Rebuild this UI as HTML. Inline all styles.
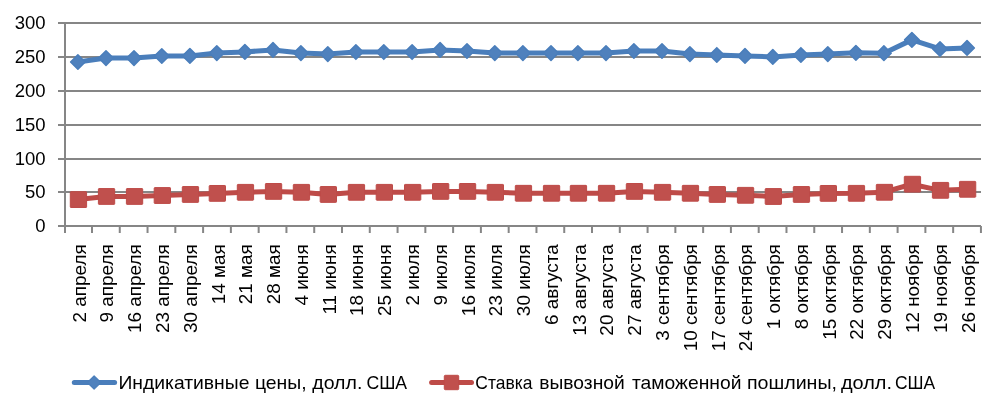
<!DOCTYPE html>
<html><head><meta charset="utf-8"><style>
html,body{margin:0;padding:0;background:#fff;}
body{width:1004px;height:414px;overflow:hidden;}
svg{display:block;will-change:transform;font-family:"Liberation Sans",sans-serif;}
</style></head><body>
<svg width="1004" height="414" viewBox="0 0 1004 414">
<line x1="58" y1="192.00" x2="981" y2="192.00" stroke="#868686" stroke-width="2"/>
<line x1="58" y1="159.00" x2="981" y2="159.00" stroke="#868686" stroke-width="2"/>
<line x1="58" y1="125.00" x2="981" y2="125.00" stroke="#868686" stroke-width="2"/>
<line x1="58" y1="91.00" x2="981" y2="91.00" stroke="#868686" stroke-width="2"/>
<line x1="58" y1="57.00" x2="981" y2="57.00" stroke="#868686" stroke-width="2"/>
<line x1="58" y1="23.00" x2="981" y2="23.00" stroke="#868686" stroke-width="2"/>
<line x1="58" y1="226" x2="981" y2="226" stroke="#868686" stroke-width="2"/>
<line x1="65" y1="22" x2="65" y2="233" stroke="#868686" stroke-width="2"/>
<line x1="91.98" y1="226" x2="91.98" y2="233" stroke="#868686" stroke-width="2"/>
<line x1="119.76" y1="226" x2="119.76" y2="233" stroke="#868686" stroke-width="2"/>
<line x1="147.54" y1="226" x2="147.54" y2="233" stroke="#868686" stroke-width="2"/>
<line x1="175.32" y1="226" x2="175.32" y2="233" stroke="#868686" stroke-width="2"/>
<line x1="203.10" y1="226" x2="203.10" y2="233" stroke="#868686" stroke-width="2"/>
<line x1="230.88" y1="226" x2="230.88" y2="233" stroke="#868686" stroke-width="2"/>
<line x1="258.66" y1="226" x2="258.66" y2="233" stroke="#868686" stroke-width="2"/>
<line x1="286.44" y1="226" x2="286.44" y2="233" stroke="#868686" stroke-width="2"/>
<line x1="314.22" y1="226" x2="314.22" y2="233" stroke="#868686" stroke-width="2"/>
<line x1="342.00" y1="226" x2="342.00" y2="233" stroke="#868686" stroke-width="2"/>
<line x1="369.78" y1="226" x2="369.78" y2="233" stroke="#868686" stroke-width="2"/>
<line x1="397.56" y1="226" x2="397.56" y2="233" stroke="#868686" stroke-width="2"/>
<line x1="425.34" y1="226" x2="425.34" y2="233" stroke="#868686" stroke-width="2"/>
<line x1="453.12" y1="226" x2="453.12" y2="233" stroke="#868686" stroke-width="2"/>
<line x1="480.90" y1="226" x2="480.90" y2="233" stroke="#868686" stroke-width="2"/>
<line x1="508.68" y1="226" x2="508.68" y2="233" stroke="#868686" stroke-width="2"/>
<line x1="536.46" y1="226" x2="536.46" y2="233" stroke="#868686" stroke-width="2"/>
<line x1="564.24" y1="226" x2="564.24" y2="233" stroke="#868686" stroke-width="2"/>
<line x1="592.02" y1="226" x2="592.02" y2="233" stroke="#868686" stroke-width="2"/>
<line x1="619.80" y1="226" x2="619.80" y2="233" stroke="#868686" stroke-width="2"/>
<line x1="647.58" y1="226" x2="647.58" y2="233" stroke="#868686" stroke-width="2"/>
<line x1="675.36" y1="226" x2="675.36" y2="233" stroke="#868686" stroke-width="2"/>
<line x1="703.14" y1="226" x2="703.14" y2="233" stroke="#868686" stroke-width="2"/>
<line x1="730.92" y1="226" x2="730.92" y2="233" stroke="#868686" stroke-width="2"/>
<line x1="758.70" y1="226" x2="758.70" y2="233" stroke="#868686" stroke-width="2"/>
<line x1="786.48" y1="226" x2="786.48" y2="233" stroke="#868686" stroke-width="2"/>
<line x1="814.26" y1="226" x2="814.26" y2="233" stroke="#868686" stroke-width="2"/>
<line x1="842.04" y1="226" x2="842.04" y2="233" stroke="#868686" stroke-width="2"/>
<line x1="869.82" y1="226" x2="869.82" y2="233" stroke="#868686" stroke-width="2"/>
<line x1="897.60" y1="226" x2="897.60" y2="233" stroke="#868686" stroke-width="2"/>
<line x1="925.38" y1="226" x2="925.38" y2="233" stroke="#868686" stroke-width="2"/>
<line x1="953.16" y1="226" x2="953.16" y2="233" stroke="#868686" stroke-width="2"/>
<line x1="980.94" y1="226" x2="980.94" y2="233" stroke="#868686" stroke-width="2"/>
<text x="45.5" y="231.70" text-anchor="end" font-size="18.5" fill="#000">0</text>
<text x="45.5" y="197.70" text-anchor="end" font-size="18.5" fill="#000">50</text>
<text x="45.5" y="164.70" text-anchor="end" font-size="18.5" fill="#000">100</text>
<text x="45.5" y="130.70" text-anchor="end" font-size="18.5" fill="#000">150</text>
<text x="45.5" y="96.70" text-anchor="end" font-size="18.5" fill="#000">200</text>
<text x="45.5" y="62.70" text-anchor="end" font-size="18.5" fill="#000">250</text>
<text x="45.5" y="28.70" text-anchor="end" font-size="18.5" fill="#000">300</text>
<text transform="translate(85.61,244.3) rotate(-90)" text-anchor="end" font-size="18.9" fill="#000">2 апреля</text>
<text transform="translate(113.39,244.3) rotate(-90)" text-anchor="end" font-size="18.9" fill="#000">9 апреля</text>
<text transform="translate(141.17,244.3) rotate(-90)" text-anchor="end" font-size="18.9" fill="#000">16 апреля</text>
<text transform="translate(168.95,244.3) rotate(-90)" text-anchor="end" font-size="18.9" fill="#000">23 апреля</text>
<text transform="translate(196.73,244.3) rotate(-90)" text-anchor="end" font-size="18.9" fill="#000">30 апреля</text>
<text transform="translate(224.51,244.3) rotate(-90)" text-anchor="end" font-size="18.9" fill="#000">14 мая</text>
<text transform="translate(252.29,244.3) rotate(-90)" text-anchor="end" font-size="18.9" fill="#000">21 мая</text>
<text transform="translate(280.07,244.3) rotate(-90)" text-anchor="end" font-size="18.9" fill="#000">28 мая</text>
<text transform="translate(307.85,244.3) rotate(-90)" text-anchor="end" font-size="18.9" fill="#000">4 июня</text>
<text transform="translate(335.63,244.3) rotate(-90)" text-anchor="end" font-size="18.9" fill="#000">11 июня</text>
<text transform="translate(363.42,244.3) rotate(-90)" text-anchor="end" font-size="18.9" fill="#000">18 июня</text>
<text transform="translate(391.20,244.3) rotate(-90)" text-anchor="end" font-size="18.9" fill="#000">25 июня</text>
<text transform="translate(418.98,244.3) rotate(-90)" text-anchor="end" font-size="18.9" fill="#000">2 июля</text>
<text transform="translate(446.76,244.3) rotate(-90)" text-anchor="end" font-size="18.9" fill="#000">9 июля</text>
<text transform="translate(474.54,244.3) rotate(-90)" text-anchor="end" font-size="18.9" fill="#000">16 июля</text>
<text transform="translate(502.32,244.3) rotate(-90)" text-anchor="end" font-size="18.9" fill="#000">23 июля</text>
<text transform="translate(530.10,244.3) rotate(-90)" text-anchor="end" font-size="18.9" fill="#000">30 июля</text>
<text transform="translate(557.88,244.3) rotate(-90)" text-anchor="end" font-size="18.9" fill="#000">6 августа</text>
<text transform="translate(585.66,244.3) rotate(-90)" text-anchor="end" font-size="18.9" fill="#000">13 августа</text>
<text transform="translate(613.44,244.3) rotate(-90)" text-anchor="end" font-size="18.9" fill="#000">20 августа</text>
<text transform="translate(641.22,244.3) rotate(-90)" text-anchor="end" font-size="18.9" fill="#000">27 августа</text>
<text transform="translate(669.00,244.3) rotate(-90)" text-anchor="end" font-size="18.9" fill="#000">3 сентября</text>
<text transform="translate(696.78,244.3) rotate(-90)" text-anchor="end" font-size="18.9" fill="#000">10 сентября</text>
<text transform="translate(724.56,244.3) rotate(-90)" text-anchor="end" font-size="18.9" fill="#000">17 сентября</text>
<text transform="translate(752.34,244.3) rotate(-90)" text-anchor="end" font-size="18.9" fill="#000">24 сентября</text>
<text transform="translate(780.12,244.3) rotate(-90)" text-anchor="end" font-size="18.9" fill="#000">1 октября</text>
<text transform="translate(807.90,244.3) rotate(-90)" text-anchor="end" font-size="18.9" fill="#000">8 октября</text>
<text transform="translate(835.68,244.3) rotate(-90)" text-anchor="end" font-size="18.9" fill="#000">15 октября</text>
<text transform="translate(863.46,244.3) rotate(-90)" text-anchor="end" font-size="18.9" fill="#000">22 октября</text>
<text transform="translate(891.24,244.3) rotate(-90)" text-anchor="end" font-size="18.9" fill="#000">29 октября</text>
<text transform="translate(919.02,244.3) rotate(-90)" text-anchor="end" font-size="18.9" fill="#000">12 ноября</text>
<text transform="translate(946.81,244.3) rotate(-90)" text-anchor="end" font-size="18.9" fill="#000">19 ноября</text>
<text transform="translate(974.59,244.3) rotate(-90)" text-anchor="end" font-size="18.9" fill="#000">26 ноября</text>
<polyline points="77.90,62.00 106.00,58.05 134.00,58.05 161.80,56.00 189.90,55.90 216.80,53.05 244.90,51.90 273.00,49.94 300.90,53.05 327.80,54.06 355.90,52.03 383.80,52.03 412.10,52.03 440.10,49.94 467.00,51.00 494.80,53.05 522.90,53.05 551.00,53.05 577.90,53.05 606.00,53.05 633.90,51.00 662.00,51.00 689.90,54.06 716.80,54.96 745.00,55.92 772.80,56.93 800.90,54.96 827.80,54.06 855.90,52.86 883.90,53.16 911.90,39.87 940.00,48.98 967.05,47.93" fill="none" stroke="#4A7EBB" stroke-width="5" stroke-linejoin="round"/>
<path d="M77.90 54.70L85.20 62.00L77.90 69.30L70.60 62.00Z" fill="#4F81BD" stroke="#4A7EBB" stroke-width="1.5" stroke-linejoin="round"/>
<path d="M106.00 50.75L113.30 58.05L106.00 65.35L98.70 58.05Z" fill="#4F81BD" stroke="#4A7EBB" stroke-width="1.5" stroke-linejoin="round"/>
<path d="M134.00 50.75L141.30 58.05L134.00 65.35L126.70 58.05Z" fill="#4F81BD" stroke="#4A7EBB" stroke-width="1.5" stroke-linejoin="round"/>
<path d="M161.80 48.70L169.10 56.00L161.80 63.30L154.50 56.00Z" fill="#4F81BD" stroke="#4A7EBB" stroke-width="1.5" stroke-linejoin="round"/>
<path d="M189.90 48.60L197.20 55.90L189.90 63.20L182.60 55.90Z" fill="#4F81BD" stroke="#4A7EBB" stroke-width="1.5" stroke-linejoin="round"/>
<path d="M216.80 45.75L224.10 53.05L216.80 60.35L209.50 53.05Z" fill="#4F81BD" stroke="#4A7EBB" stroke-width="1.5" stroke-linejoin="round"/>
<path d="M244.90 44.60L252.20 51.90L244.90 59.20L237.60 51.90Z" fill="#4F81BD" stroke="#4A7EBB" stroke-width="1.5" stroke-linejoin="round"/>
<path d="M273.00 42.64L280.30 49.94L273.00 57.24L265.70 49.94Z" fill="#4F81BD" stroke="#4A7EBB" stroke-width="1.5" stroke-linejoin="round"/>
<path d="M300.90 45.75L308.20 53.05L300.90 60.35L293.60 53.05Z" fill="#4F81BD" stroke="#4A7EBB" stroke-width="1.5" stroke-linejoin="round"/>
<path d="M327.80 46.76L335.10 54.06L327.80 61.36L320.50 54.06Z" fill="#4F81BD" stroke="#4A7EBB" stroke-width="1.5" stroke-linejoin="round"/>
<path d="M355.90 44.73L363.20 52.03L355.90 59.33L348.60 52.03Z" fill="#4F81BD" stroke="#4A7EBB" stroke-width="1.5" stroke-linejoin="round"/>
<path d="M383.80 44.73L391.10 52.03L383.80 59.33L376.50 52.03Z" fill="#4F81BD" stroke="#4A7EBB" stroke-width="1.5" stroke-linejoin="round"/>
<path d="M412.10 44.73L419.40 52.03L412.10 59.33L404.80 52.03Z" fill="#4F81BD" stroke="#4A7EBB" stroke-width="1.5" stroke-linejoin="round"/>
<path d="M440.10 42.64L447.40 49.94L440.10 57.24L432.80 49.94Z" fill="#4F81BD" stroke="#4A7EBB" stroke-width="1.5" stroke-linejoin="round"/>
<path d="M467.00 43.70L474.30 51.00L467.00 58.30L459.70 51.00Z" fill="#4F81BD" stroke="#4A7EBB" stroke-width="1.5" stroke-linejoin="round"/>
<path d="M494.80 45.75L502.10 53.05L494.80 60.35L487.50 53.05Z" fill="#4F81BD" stroke="#4A7EBB" stroke-width="1.5" stroke-linejoin="round"/>
<path d="M522.90 45.75L530.20 53.05L522.90 60.35L515.60 53.05Z" fill="#4F81BD" stroke="#4A7EBB" stroke-width="1.5" stroke-linejoin="round"/>
<path d="M551.00 45.75L558.30 53.05L551.00 60.35L543.70 53.05Z" fill="#4F81BD" stroke="#4A7EBB" stroke-width="1.5" stroke-linejoin="round"/>
<path d="M577.90 45.75L585.20 53.05L577.90 60.35L570.60 53.05Z" fill="#4F81BD" stroke="#4A7EBB" stroke-width="1.5" stroke-linejoin="round"/>
<path d="M606.00 45.75L613.30 53.05L606.00 60.35L598.70 53.05Z" fill="#4F81BD" stroke="#4A7EBB" stroke-width="1.5" stroke-linejoin="round"/>
<path d="M633.90 43.70L641.20 51.00L633.90 58.30L626.60 51.00Z" fill="#4F81BD" stroke="#4A7EBB" stroke-width="1.5" stroke-linejoin="round"/>
<path d="M662.00 43.70L669.30 51.00L662.00 58.30L654.70 51.00Z" fill="#4F81BD" stroke="#4A7EBB" stroke-width="1.5" stroke-linejoin="round"/>
<path d="M689.90 46.76L697.20 54.06L689.90 61.36L682.60 54.06Z" fill="#4F81BD" stroke="#4A7EBB" stroke-width="1.5" stroke-linejoin="round"/>
<path d="M716.80 47.66L724.10 54.96L716.80 62.26L709.50 54.96Z" fill="#4F81BD" stroke="#4A7EBB" stroke-width="1.5" stroke-linejoin="round"/>
<path d="M745.00 48.62L752.30 55.92L745.00 63.22L737.70 55.92Z" fill="#4F81BD" stroke="#4A7EBB" stroke-width="1.5" stroke-linejoin="round"/>
<path d="M772.80 49.63L780.10 56.93L772.80 64.23L765.50 56.93Z" fill="#4F81BD" stroke="#4A7EBB" stroke-width="1.5" stroke-linejoin="round"/>
<path d="M800.90 47.66L808.20 54.96L800.90 62.26L793.60 54.96Z" fill="#4F81BD" stroke="#4A7EBB" stroke-width="1.5" stroke-linejoin="round"/>
<path d="M827.80 46.76L835.10 54.06L827.80 61.36L820.50 54.06Z" fill="#4F81BD" stroke="#4A7EBB" stroke-width="1.5" stroke-linejoin="round"/>
<path d="M855.90 45.56L863.20 52.86L855.90 60.16L848.60 52.86Z" fill="#4F81BD" stroke="#4A7EBB" stroke-width="1.5" stroke-linejoin="round"/>
<path d="M883.90 45.86L891.20 53.16L883.90 60.46L876.60 53.16Z" fill="#4F81BD" stroke="#4A7EBB" stroke-width="1.5" stroke-linejoin="round"/>
<path d="M911.90 32.57L919.20 39.87L911.90 47.17L904.60 39.87Z" fill="#4F81BD" stroke="#4A7EBB" stroke-width="1.5" stroke-linejoin="round"/>
<path d="M940.00 41.68L947.30 48.98L940.00 56.28L932.70 48.98Z" fill="#4F81BD" stroke="#4A7EBB" stroke-width="1.5" stroke-linejoin="round"/>
<path d="M967.05 40.63L974.35 47.93L967.05 55.23L959.75 47.93Z" fill="#4F81BD" stroke="#4A7EBB" stroke-width="1.5" stroke-linejoin="round"/>
<polyline points="77.90,199.58 106.00,196.47 134.00,196.47 161.80,195.52 189.90,194.46 216.80,193.39 244.90,192.31 273.00,191.41 300.90,192.31 327.80,194.46 355.90,192.31 383.80,192.31 412.10,192.31 440.10,191.41 467.00,191.41 494.80,192.31 522.90,193.27 551.00,193.27 577.90,193.27 606.00,193.27 633.90,191.41 662.00,192.31 689.90,193.27 716.80,194.46 745.00,195.30 772.80,196.49 800.90,194.46 827.80,193.39 855.90,193.32 883.90,192.27 911.90,184.20 940.00,190.33 967.05,189.28" fill="none" stroke="#BE4B48" stroke-width="5" stroke-linejoin="round"/>
<rect x="70.30" y="191.68" width="16.30" height="15.80" rx="0.6" fill="#C0504D" stroke="#BE4B48" stroke-width="1"/>
<rect x="98.40" y="188.57" width="16.30" height="15.80" rx="0.6" fill="#C0504D" stroke="#BE4B48" stroke-width="1"/>
<rect x="126.40" y="188.57" width="16.30" height="15.80" rx="0.6" fill="#C0504D" stroke="#BE4B48" stroke-width="1"/>
<rect x="154.20" y="187.62" width="16.30" height="15.80" rx="0.6" fill="#C0504D" stroke="#BE4B48" stroke-width="1"/>
<rect x="182.30" y="186.56" width="16.30" height="15.80" rx="0.6" fill="#C0504D" stroke="#BE4B48" stroke-width="1"/>
<rect x="209.20" y="185.49" width="16.30" height="15.80" rx="0.6" fill="#C0504D" stroke="#BE4B48" stroke-width="1"/>
<rect x="237.30" y="184.41" width="16.30" height="15.80" rx="0.6" fill="#C0504D" stroke="#BE4B48" stroke-width="1"/>
<rect x="265.40" y="183.51" width="16.30" height="15.80" rx="0.6" fill="#C0504D" stroke="#BE4B48" stroke-width="1"/>
<rect x="293.30" y="184.41" width="16.30" height="15.80" rx="0.6" fill="#C0504D" stroke="#BE4B48" stroke-width="1"/>
<rect x="320.20" y="186.56" width="16.30" height="15.80" rx="0.6" fill="#C0504D" stroke="#BE4B48" stroke-width="1"/>
<rect x="348.30" y="184.41" width="16.30" height="15.80" rx="0.6" fill="#C0504D" stroke="#BE4B48" stroke-width="1"/>
<rect x="376.20" y="184.41" width="16.30" height="15.80" rx="0.6" fill="#C0504D" stroke="#BE4B48" stroke-width="1"/>
<rect x="404.50" y="184.41" width="16.30" height="15.80" rx="0.6" fill="#C0504D" stroke="#BE4B48" stroke-width="1"/>
<rect x="432.50" y="183.51" width="16.30" height="15.80" rx="0.6" fill="#C0504D" stroke="#BE4B48" stroke-width="1"/>
<rect x="459.40" y="183.51" width="16.30" height="15.80" rx="0.6" fill="#C0504D" stroke="#BE4B48" stroke-width="1"/>
<rect x="487.20" y="184.41" width="16.30" height="15.80" rx="0.6" fill="#C0504D" stroke="#BE4B48" stroke-width="1"/>
<rect x="515.30" y="185.37" width="16.30" height="15.80" rx="0.6" fill="#C0504D" stroke="#BE4B48" stroke-width="1"/>
<rect x="543.40" y="185.37" width="16.30" height="15.80" rx="0.6" fill="#C0504D" stroke="#BE4B48" stroke-width="1"/>
<rect x="570.30" y="185.37" width="16.30" height="15.80" rx="0.6" fill="#C0504D" stroke="#BE4B48" stroke-width="1"/>
<rect x="598.40" y="185.37" width="16.30" height="15.80" rx="0.6" fill="#C0504D" stroke="#BE4B48" stroke-width="1"/>
<rect x="626.30" y="183.51" width="16.30" height="15.80" rx="0.6" fill="#C0504D" stroke="#BE4B48" stroke-width="1"/>
<rect x="654.40" y="184.41" width="16.30" height="15.80" rx="0.6" fill="#C0504D" stroke="#BE4B48" stroke-width="1"/>
<rect x="682.30" y="185.37" width="16.30" height="15.80" rx="0.6" fill="#C0504D" stroke="#BE4B48" stroke-width="1"/>
<rect x="709.20" y="186.56" width="16.30" height="15.80" rx="0.6" fill="#C0504D" stroke="#BE4B48" stroke-width="1"/>
<rect x="737.40" y="187.40" width="16.30" height="15.80" rx="0.6" fill="#C0504D" stroke="#BE4B48" stroke-width="1"/>
<rect x="765.20" y="188.59" width="16.30" height="15.80" rx="0.6" fill="#C0504D" stroke="#BE4B48" stroke-width="1"/>
<rect x="793.30" y="186.56" width="16.30" height="15.80" rx="0.6" fill="#C0504D" stroke="#BE4B48" stroke-width="1"/>
<rect x="820.20" y="185.49" width="16.30" height="15.80" rx="0.6" fill="#C0504D" stroke="#BE4B48" stroke-width="1"/>
<rect x="848.30" y="185.42" width="16.30" height="15.80" rx="0.6" fill="#C0504D" stroke="#BE4B48" stroke-width="1"/>
<rect x="876.30" y="184.37" width="16.30" height="15.80" rx="0.6" fill="#C0504D" stroke="#BE4B48" stroke-width="1"/>
<rect x="904.30" y="176.30" width="16.30" height="15.80" rx="0.6" fill="#C0504D" stroke="#BE4B48" stroke-width="1"/>
<rect x="932.40" y="182.43" width="16.30" height="15.80" rx="0.6" fill="#C0504D" stroke="#BE4B48" stroke-width="1"/>
<rect x="959.45" y="181.38" width="16.30" height="15.80" rx="0.6" fill="#C0504D" stroke="#BE4B48" stroke-width="1"/>
<line x1="74.3" y1="382.5" x2="114.6" y2="382.5" stroke="#4A7EBB" stroke-width="5" stroke-linecap="round"/>
<path d="M94.10 375.80L100.80 382.50L94.10 389.20L87.40 382.50Z" fill="#4F81BD" stroke="#4A7EBB" stroke-width="1.2" stroke-linejoin="round"/>
<text x="118.40" y="389" font-size="18.5" textLength="131.00" lengthAdjust="spacingAndGlyphs" fill="#000">Индикативные</text>
<text x="254.90" y="389" font-size="18.5" textLength="51.80" lengthAdjust="spacingAndGlyphs" fill="#000">цены,</text>
<text x="312.30" y="389" font-size="18.5" textLength="50.00" lengthAdjust="spacingAndGlyphs" fill="#000">долл.</text>
<text x="366.40" y="389" font-size="18.5" textLength="40.70" lengthAdjust="spacingAndGlyphs" fill="#000">США</text>
<text x="475.30" y="389" font-size="18.5" textLength="57.20" lengthAdjust="spacingAndGlyphs" fill="#000">Ставка</text>
<text x="539.30" y="389" font-size="18.5" textLength="85.40" lengthAdjust="spacingAndGlyphs" fill="#000">вывозной</text>
<text x="632.00" y="389" font-size="18.5" textLength="109.40" lengthAdjust="spacingAndGlyphs" fill="#000">таможенной</text>
<text x="746.90" y="389" font-size="18.5" textLength="90.10" lengthAdjust="spacingAndGlyphs" fill="#000">пошлины,</text>
<text x="841.00" y="389" font-size="18.5" textLength="51.00" lengthAdjust="spacingAndGlyphs" fill="#000">долл.</text>
<text x="895.00" y="389" font-size="18.5" textLength="40.20" lengthAdjust="spacingAndGlyphs" fill="#000">США</text>
<line x1="431.6" y1="382.5" x2="471.5" y2="382.5" stroke="#BE4B48" stroke-width="5" stroke-linecap="round"/>
<rect x="444.30" y="375.30" width="14.40" height="14.40" rx="1" fill="#C0504D" stroke="#BE4B48" stroke-width="1"/>
</svg>
</body></html>
